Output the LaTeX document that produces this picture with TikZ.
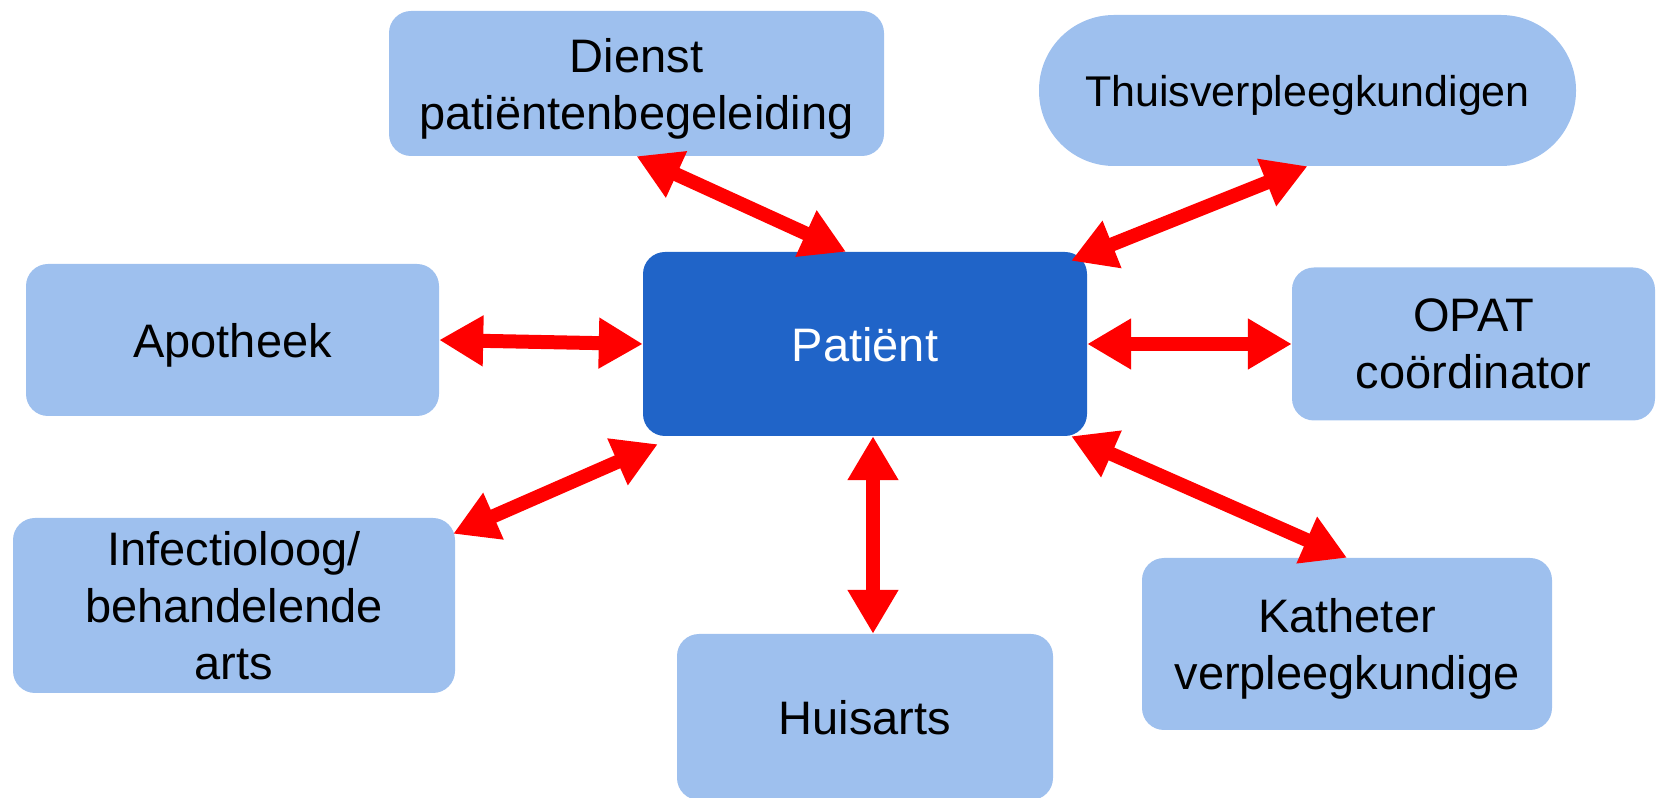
\documentclass[tikz,border=0pt]{standalone}
\usepackage{fontspec}
\setmainfont{Liberation Sans}
\usetikzlibrary{arrows.meta}
\definecolor{lightblue}{RGB}{158,192,238}
\definecolor{darkblue}{RGB}{32,100,200}
\begin{document}
\begin{tikzpicture}[
  x=1pt, y=1pt,
  box/.style={rectangle, rounded corners=22pt, fill=lightblue, inner sep=0pt, text depth=0pt, align=center, font=\fontsize{47}{57}\selectfont},
  link/.style={{Triangle[length=44pt,width=48pt]}-{Triangle[length=44pt,width=48pt]}, line width=14pt, red}
]
\useasboundingbox (0,0) rectangle (1658,798);
\node[box, fill=darkblue, text=white, minimum width=444pt, minimum height=184pt] (pat) at (865,454) {Patiënt};
\node[box, above of=pat, node distance=260.5pt, xshift=-228.5pt, minimum width=495pt, minimum height=145pt] (dienst) {Dienst\\patiëntenbegeleiding};
\node[box, above of=pat, node distance=253.5pt, xshift=442.5pt, minimum width=537pt, minimum height=151pt, rounded corners=75pt, font=\fontsize{43}{52}\selectfont] (thuis) {Thuisverpleegkundigen};
\node[box, left of=pat, node distance=632.5pt, yshift=4pt, minimum width=413pt, minimum height=152pt] (apo) {Apotheek};
\node[box, right of=pat, node distance=608.5pt, minimum width=363pt, minimum height=153pt] (opat) {OPAT\\coördinator};
\node[box, below of=pat, node distance=261.5pt, xshift=-631pt, minimum width=442pt, minimum height=175pt] (inf) {Infectioloog/\\behandelende\\arts};
\node[box, below of=pat, node distance=373pt, minimum width=376pt, minimum height=166pt] (hui) {Huisarts};
\node[box, below of=pat, node distance=300pt, xshift=482pt, minimum width=410pt, minimum height=172pt] (kat) {Katheter\\verpleegkundige};

\draw[link] (dienst.south) -- ([xshift=-19pt]pat.north);
\draw[link] ([shift={(-16pt,-9pt)}]pat.north east) -- (thuis.south);
\draw[link] (apo.east) -- (pat.west);
\draw[link] (pat.east) -- (opat.west);
\draw[link] ([shift={(-2pt,-16pt)}]inf.north east) -- ([shift={(15pt,-8pt)}]pat.south west);
\draw[link] ([xshift=8pt]pat.south) -- ([xshift=8pt]hui.north);
\draw[link] ([xshift=-16pt]pat.south east) -- (kat.north);
\end{tikzpicture}
\end{document}
